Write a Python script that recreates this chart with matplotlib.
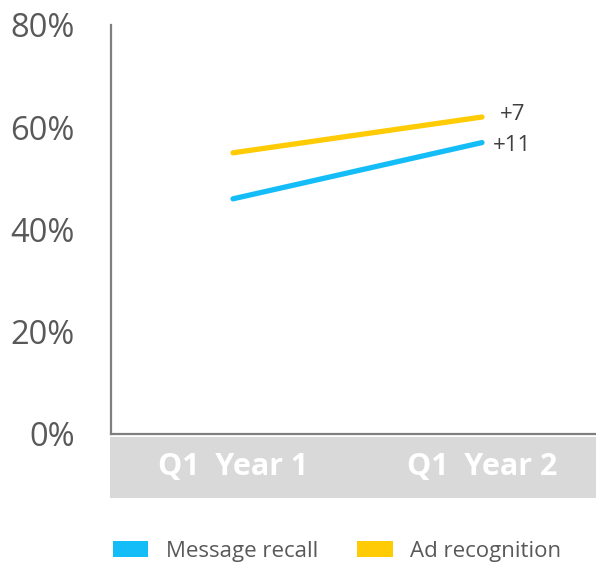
import matplotlib
matplotlib.use("Agg")
import matplotlib.pyplot as plt
from matplotlib.patches import Rectangle, Patch

categories = ["Q1  Year 1", "Q1  Year 2"]
message_recall = [46, 57]
ad_recognition = [55, 62]
changes = ["+7", "+11"]
yticks = [0, 20, 40, 60, 80]
ytick_labels = ["0%", "20%", "40%", "60%", "80%"]

BLUE = "#14BDF7"
YELLOW = "#FFCB05"
GRAY_TXT = "#595959"

W, H = 596, 564
fig = plt.figure(figsize=(W / 100, H / 100), dpi=100)
ax = fig.add_axes([111 / W, 1 - 434 / H, (596 - 111) / W, (434 - 25) / H])

x = list(range(len(categories)))
ax.plot(x, ad_recognition, color=YELLOW, lw=3.8, solid_capstyle="round", zorder=3)
ax.plot(x, message_recall, color=BLUE, lw=3.8, solid_capstyle="round", zorder=3)

ax.set_xlim(-0.49, 1.458)
ax.set_ylim(0, 80)
ax.set_yticks(yticks)
ax.set_yticklabels(ytick_labels, fontsize=23.5, color=GRAY_TXT, family="Open Sans")
ax.tick_params(axis="y", length=0, pad=26)
ax.set_xticks([])

for s in ["top", "right"]:
    ax.spines[s].set_visible(False)
for s in ["left", "bottom"]:
    ax.spines[s].set_color("#7f7f7f")
    ax.spines[s].set_linewidth(1.6)

# annotations
ax.annotate(changes[0], (x[1], ad_recognition[1]), xytext=(13, 2), textcoords="offset points",
            fontsize=16, color="#404040", family="Open Sans", va="center", ha="left")
ax.annotate(changes[1], (x[1], message_recall[1]), xytext=(8, -2), textcoords="offset points",
            fontsize=16, color="#404040", family="Open Sans", va="center", ha="left")

# gray category band
band = Rectangle((110 / W, 1 - 498 / H), (W - 110) / W, (498 - 437) / H,
                 transform=fig.transFigure, facecolor="#D9D9D9", edgecolor="none", zorder=0)
fig.patches.append(band)
for xi, lab in zip(x, categories):
    xd = ax.transData.transform((xi, 0))[0] / W
    fig.text(xd, 1 - 467 / H, lab, ha="center", va="center", color="white",
             fontsize=22, fontweight="bold", family="Open Sans")

handles = [Patch(facecolor=BLUE, label="Message recall"),
           Patch(facecolor=YELLOW, label="Ad recognition")]
leg = fig.legend(handles=handles, loc="center", bbox_to_anchor=(337 / W, 1 - 551 / H), ncol=2,
                 frameon=False, handlelength=1.6, handleheight=0.72, columnspacing=1.75,
                 handletextpad=0.8, prop={"family": "Open Sans", "size": 16})
for t in leg.get_texts():
    t.set_color(GRAY_TXT)

fig.savefig("out.png", dpi=100)
